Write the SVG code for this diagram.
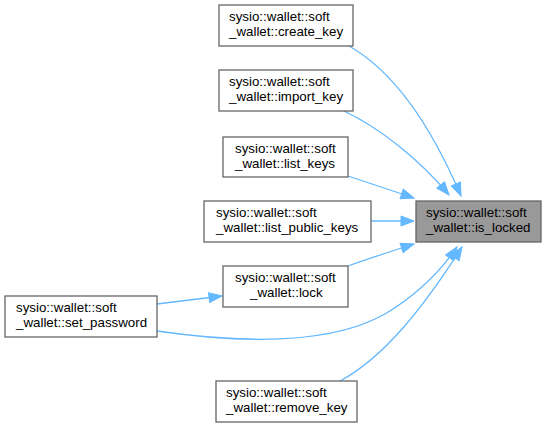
<svg xmlns="http://www.w3.org/2000/svg" width="547" height="427" viewBox="0 0 547 427">
<style>
.n rect{fill:#ffffff;stroke:#666666;stroke-width:1.3}
.n.h rect{fill:#999999}
.n text{font-family:"Liberation Sans",Arial,sans-serif;font-size:13.33px;fill:#000000}
.e path{fill:none;stroke:#63b8ff;stroke-width:1.3}
</style>
<defs>
<marker id="ah" markerUnits="userSpaceOnUse" markerWidth="16" markerHeight="12" viewBox="0 0 16 12" refX="14" refY="6" orient="auto">
<polygon points="1,1 14,6 1,11" fill="#63b8ff" stroke="#63b8ff" stroke-width="1"/>
</marker>
</defs>
<rect width="547" height="427" fill="#ffffff"/>
<g id="edges" class="e">
<path d="M349,46 C395,72 432,128 461,196" marker-end="url(#ah)"/>
<path d="M344,111 C380,128 420,160 449,195" marker-end="url(#ah)"/>
<path d="M348,176 L414,198" marker-end="url(#ah)"/>
<path d="M371,221 L414,221" marker-end="url(#ah)"/>
<path d="M348,266 C370,258 392,251 414,244" marker-end="url(#ah)"/>
<path d="M157,304 L222,296" marker-end="url(#ah)"/>
<path d="M157,331 C240,343 330,345 385,314 C415,296 440,272 457,247" marker-end="url(#ah)"/>
<path d="M340,381 C385,357 425,305 462,247" marker-end="url(#ah)"/>
</g>
<g id="is_locked" class="n h">
<rect x="416" y="201" width="125" height="41"/>
<text x="426" y="217">sysio::wallet::soft</text>
<text x="426" y="232">_wallet::is_locked</text>
</g>
<g id="create_key" class="n">
<rect x="219" y="5" width="134" height="41"/>
<text x="229" y="21">sysio::wallet::soft</text>
<text x="229" y="36">_wallet::create_key</text>
</g>
<g id="import_key" class="n">
<rect x="219" y="70" width="134" height="41"/>
<text x="229" y="86">sysio::wallet::soft</text>
<text x="229" y="101">_wallet::import_key</text>
</g>
<g id="list_keys" class="n">
<rect x="223" y="137" width="125" height="40"/>
<text x="235" y="153">sysio::wallet::soft</text>
<text x="235" y="168">_wallet::list_keys</text>
</g>
<g id="list_public_keys" class="n">
<rect x="204" y="201" width="167" height="41"/>
<text x="216" y="217">sysio::wallet::soft</text>
<text x="216" y="232">_wallet::list_public_keys</text>
</g>
<g id="lock" class="n">
<rect x="223" y="266" width="125" height="41"/>
<text x="235" y="282">sysio::wallet::soft</text>
<text x="250" y="297">_wallet::lock</text>
</g>
<g id="set_password" class="n">
<rect x="5" y="296" width="152" height="41"/>
<text x="16" y="312">sysio::wallet::soft</text>
<text x="16" y="327">_wallet::set_password</text>
</g>
<g id="remove_key" class="n">
<rect x="216" y="381" width="141" height="41"/>
<text x="226" y="397">sysio::wallet::soft</text>
<text x="226" y="412">_wallet::remove_key</text>
</g>
</svg>
